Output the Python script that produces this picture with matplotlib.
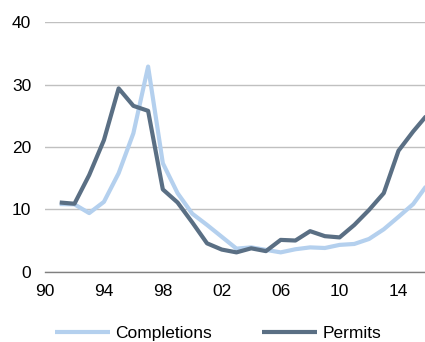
import matplotlib
matplotlib.use("Agg")
import matplotlib.pyplot as plt

plt.rcParams['font.family'] = ['Liberation Sans', 'DejaVu Sans']

years = list(range(1991, 2017))
completions = [10.85, 10.8, 9.4, 11.2, 15.8, 22.2, 32.9, 17.4, 12.6, 9.3,
               7.5, 5.6, 3.7, 3.9, 3.5, 3.1, 3.6, 3.9, 3.8, 4.3,
               4.45, 5.25, 6.8, 8.8, 10.85, 14.1]
permits = [11.1, 10.9, 15.5, 21.1, 29.4, 26.6, 25.8, 13.2, 11.1, 7.9,
           4.55, 3.55, 3.1, 3.75, 3.3, 5.1, 5.0, 6.5, 5.7, 5.5,
           7.5, 9.9, 12.6, 19.4, 22.5, 25.3]
xticks = [1990, 1994, 1998, 2002, 2006, 2010, 2014]
xticklabels = ["90", "94", "98", "02", "06", "10", "14"]
yticks = [0, 10, 20, 30, 40]

fs = 12.5
fig = plt.figure(figsize=(4.25, 3.42), dpi=100)
ax = fig.add_axes([45/425, 70.3/342, 1 - 45/425, (271.7 - 22.3)/342])

ax.plot(years, completions, color='#b4d0ee', lw=3.0, label='Completions', solid_capstyle='butt')
ax.plot(years, permits, color='#5a6f84', lw=3.0, label='Permits', solid_capstyle='butt')

ax.set_xlim(1990, 2015.8)
ax.set_ylim(0, 40)
ax.set_yticks(yticks)
ax.set_xticks(xticks)
ax.set_xticklabels(xticklabels)
ax.grid(axis='y', color='#c0c0c0', lw=1.0)
ax.set_axisbelow(True)
for s in ['top', 'right', 'left']:
    ax.spines[s].set_visible(False)
ax.spines['bottom'].set_color('#808080')
ax.spines['bottom'].set_linewidth(1.0)
ax.tick_params(axis='both', length=0, labelsize=fs, colors='black')
ax.tick_params(axis='y', pad=10)
ax.tick_params(axis='x', pad=9)

fig.legend(loc='center left', bbox_to_anchor=(55/425, 9/342), ncol=2, frameon=False,
           fontsize=fs, handlelength=3.16, handletextpad=0.3, columnspacing=2.9,
           borderpad=0, borderaxespad=0)

fig.savefig('out.png', dpi=100)
